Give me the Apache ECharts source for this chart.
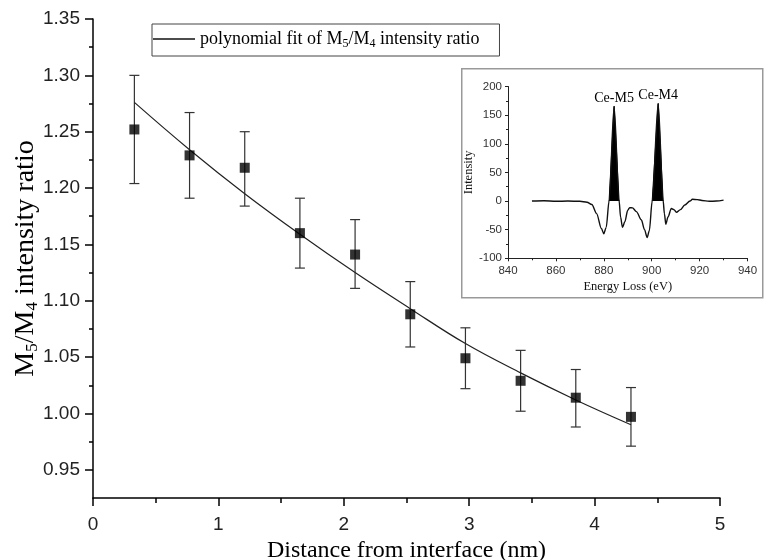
<!DOCTYPE html>
<html><head><meta charset="utf-8">
<script src="https://cdn.jsdelivr.net/npm/echarts@6/dist/echarts.min.js"></script>
<style>html,body{margin:0;padding:0;background:#fff}#c{width:764px;height:560px}</style>
</head><body><div id="c"></div>
<script>
// ---- main chart data ----
const distance  = [0.33, 0.77, 1.21, 1.65, 2.09, 2.53, 2.97, 3.41, 3.85, 4.29];
const ratio     = [1.252, 1.229, 1.218, 1.160, 1.141, 1.088, 1.049, 1.029, 1.014, 0.997];
const errLow    = [1.204, 1.191, 1.184, 1.129, 1.111, 1.059, 1.022, 1.002, 0.988, 0.971];
const errHigh   = [1.300, 1.267, 1.250, 1.191, 1.172, 1.117, 1.076, 1.056, 1.039, 1.023];
const fitValues = [1.276, 1.234, 1.195, 1.159, 1.125, 1.093, 1.062, 1.036, 1.012, 0.990];
const yMajorTicks = [0.95, 1.00, 1.05, 1.10, 1.15, 1.20, 1.25, 1.30, 1.35];
const yMinorTicks = [0.975, 1.025, 1.075, 1.125, 1.175, 1.225, 1.275, 1.325];

// ---- inset spectrum data ----
const energy    = [850, 855, 860, 865, 870, 873, 875, 877, 879, 880, 881, 882.2, 884.3, 886.4, 887, 887.8, 888.8, 890, 890.8, 892, 893.6, 895.7, 897, 898.1, 899, 900.2, 902.7, 904.8, 905.3, 905.9, 906.8, 908.2, 909.3, 910.3, 912, 913.8, 916, 917, 919, 921, 924, 927, 930];
const intensity = [0, 0.5, -0.5, 0, -0.5, -2, -6, -22, -48, -57, -46, 0, 165, 0, -28, -46, -36, -16, -11.6, -12, -18.5, -33, -50, -63.6, -52, 0, 170, 0, -22, -40.5, -28, -13, -15, -19.7, -15, -7, 0, 3, 2.5, 1, -0.5, 0, 1.5];
const peakM5Energy = [882.2, 884.3, 886.4];
const peakM5Value  = [0, 165, 0];
const peakM4Energy = [900.2, 902.7, 904.8];
const peakM4Value  = [0, 170, 0];
const peakLabels = ['Ce-M5', 'Ce-M4'];

const SERIF = "'Liberation Serif','Times New Roman',serif";
const SANS = "'Liberation Sans',Arial,sans-serif";

const chart = echarts.init(document.getElementById('c'), null, {renderer: 'canvas'});

function errRender(params, api) {
  const x = api.value(0), lo = api.value(1), hi = api.value(2);
  const a = api.coord([x, lo]), b = api.coord([x, hi]);
  const w = 5;
  const st = {stroke: '#333', lineWidth: 1.2};
  return {type: 'group', children: [
    {type: 'line', shape: {x1: a[0], y1: a[1], x2: b[0], y2: b[1]}, style: st},
    {type: 'line', shape: {x1: a[0]-w, y1: a[1], x2: a[0]+w, y2: a[1]}, style: st},
    {type: 'line', shape: {x1: b[0]-w, y1: b[1], x2: b[0]+w, y2: b[1]}, style: st}
  ]};
}

const peakData = (xs, ys, lbl) => xs.map((x, i) => {
  const d = {value: [x, ys[i]]};
  if (i === 1) d.label = {show: true, position: 'top', distance: 1, formatter: lbl, fontFamily: SERIF, fontSize: 14, color: '#000'};
  return d;
});

const option = {
  animation: false,
  backgroundColor: '#fff',
  graphic: [{
    type: 'rect', z: 0, left: 461, top: 68,
    shape: {width: 301, height: 229},
    style: {fill: '#fff', stroke: '#999', lineWidth: 1.5}
  }],
  legend: {
    left: 152, top: 24, padding: [6, 20, 6, 1],
    borderColor: '#444', borderWidth: 1, borderRadius: 0,
    itemWidth: 42, itemHeight: 1.4, itemGap: 4,
    data: [{name: 'fit', icon: 'rect'}],
    itemStyle: {color: '#111'},
    formatter: () => '{n|polynomial fit of M}{s|5}{n|/M}{s|4}{n| intensity ratio}',
    textStyle: {
      rich: {
        n: {fontFamily: SERIF, fontSize: 18, color: '#000'},
        s: {fontFamily: SERIF, fontSize: 12, color: '#000', padding: [10, 0, 0, 0]}
      }
    }
  },
  grid: [
    {left: 93, right: 44, top: 19, bottom: 62, outerBoundsMode: 'none', containLabel: false},
    {left: 508, right: 16.5, top: 86.5, bottom: 301.7, outerBoundsMode: 'none', containLabel: false}
  ],
  xAxis: [
    {
      gridIndex: 0, type: 'value', min: 0, max: 5, interval: 1,
      name: 'Distance from interface (nm)', nameLocation: 'middle', nameGap: 38,
      nameTextStyle: {fontFamily: SERIF, fontSize: 24, color: '#000'},
      axisLine: {show: true, onZero: false, lineStyle: {color: '#000', width: 1.5}},
      axisTick: {show: true, inside: false, length: 8, lineStyle: {color: '#000', width: 1.5}},
      minorTick: {show: true, splitNumber: 2, length: 5, lineStyle: {color: '#000', width: 1.5}},
      axisLabel: {fontFamily: SANS, fontSize: 19, color: '#222', margin: 17},
      splitLine: {show: false}
    },
    {
      gridIndex: 1, type: 'value', min: 840, max: 940, interval: 20,
      name: 'Energy Loss (eV)', nameLocation: 'middle', nameGap: 22,
      nameTextStyle: {fontFamily: SERIF, fontSize: 12.5, color: '#111'},
      axisLine: {show: true, onZero: false, lineStyle: {color: '#222', width: 1}},
      axisTick: {show: true, length: 3, lineStyle: {color: '#222'}},
      minorTick: {show: true, splitNumber: 2, length: 2, lineStyle: {color: '#222'}},
      axisLabel: {fontFamily: SANS, fontSize: 11.5, color: '#333', margin: 7},
      splitLine: {show: false}
    }
  ],
  yAxis: [
    {
      gridIndex: 0, type: 'value', min: 0.925, max: 1.35,
      name: '{m|M}{s|5}{m|/M}{s|4}{m| intensity ratio}', nameLocation: 'middle', nameGap: 52, nameRotate: 90,
      nameMoveOverlap: false,
      nameTextStyle: {rich: {
        m: {fontFamily: SERIF, fontSize: 28, color: '#000'},
        s: {fontFamily: SERIF, fontSize: 17, color: '#000', padding: [14, 0, 0, 0]}
      }},
      axisLine: {show: true, onZero: false, lineStyle: {color: '#000', width: 1.5}},
      axisTick: {show: true, length: 8, customValues: yMajorTicks, lineStyle: {color: '#000', width: 1.5}},
      axisLabel: {fontFamily: SANS, fontSize: 19, color: '#222', margin: 13, customValues: yMajorTicks,
        formatter: v => v.toFixed(2)},
      splitLine: {show: false}
    },
    {
      gridIndex: 0, type: 'value', min: 0.925, max: 1.35, position: 'left',
      axisLine: {show: false},
      axisTick: {show: true, length: 4, customValues: yMinorTicks, lineStyle: {color: '#000', width: 1.5}},
      axisLabel: {show: false, customValues: yMinorTicks},
      splitLine: {show: false}
    },
    {
      gridIndex: 1, type: 'value', min: -100, max: 200, interval: 50,
      name: 'Intensity', nameLocation: 'middle', nameGap: 30, nameRotate: 90,
      nameTextStyle: {fontFamily: SERIF, fontSize: 12.5, color: '#111'},
      axisLine: {show: true, onZero: false, lineStyle: {color: '#222', width: 1}},
      axisTick: {show: true, length: 3, lineStyle: {color: '#222'}},
      minorTick: {show: true, splitNumber: 2, length: 2, lineStyle: {color: '#222'}},
      axisLabel: {fontFamily: SANS, fontSize: 11.5, color: '#333', margin: 6},
      splitLine: {show: false}
    }
  ],
  series: [
    {
      type: 'custom', name: 'err', xAxisIndex: 0, yAxisIndex: 0, z: 3,
      renderItem: errRender,
      encode: {x: 0, y: [1, 2]},
      data: distance.map((d, i) => [d, errLow[i], errHigh[i]])
    },
    {
      type: 'line', name: 'fit', xAxisIndex: 0, yAxisIndex: 0, z: 4,
      smooth: 0.4, symbol: 'none', showSymbol: false,
      lineStyle: {color: '#222', width: 1.2}, itemStyle: {color: '#222'},
      data: distance.map((d, i) => [d, fitValues[i]])
    },
    {
      type: 'scatter', name: 'ratio', xAxisIndex: 0, yAxisIndex: 0, z: 5,
      symbol: 'rect', symbolSize: 10, itemStyle: {color: '#000'},
      data: distance.map((d, i) => [d, ratio[i]])
    },
    {
      type: 'line', name: 'm5', xAxisIndex: 1, yAxisIndex: 2, z: 6,
      symbol: 'circle', symbolSize: 1, showSymbol: true, itemStyle: {color: '#000'},
      lineStyle: {color: '#000', width: 1},
      areaStyle: {color: '#000', opacity: 1},
      data: peakData(peakM5Energy, peakM5Value, peakLabels[0])
    },
    {
      type: 'line', name: 'm4', xAxisIndex: 1, yAxisIndex: 2, z: 6,
      symbol: 'circle', symbolSize: 1, showSymbol: true, itemStyle: {color: '#000'},
      lineStyle: {color: '#000', width: 1},
      areaStyle: {color: '#000', opacity: 1},
      data: peakData(peakM4Energy, peakM4Value, peakLabels[1])
    },
    {
      type: 'line', name: 'spectrum', xAxisIndex: 1, yAxisIndex: 2, z: 7,
      smooth: 0.3, smoothMonotone: 'x', symbol: 'none',
      lineStyle: {color: '#111', width: 1.4},
      data: energy.map((e, i) => [e, intensity[i]])
    }
  ]
};
chart.setOption(option);
</script></body></html>
